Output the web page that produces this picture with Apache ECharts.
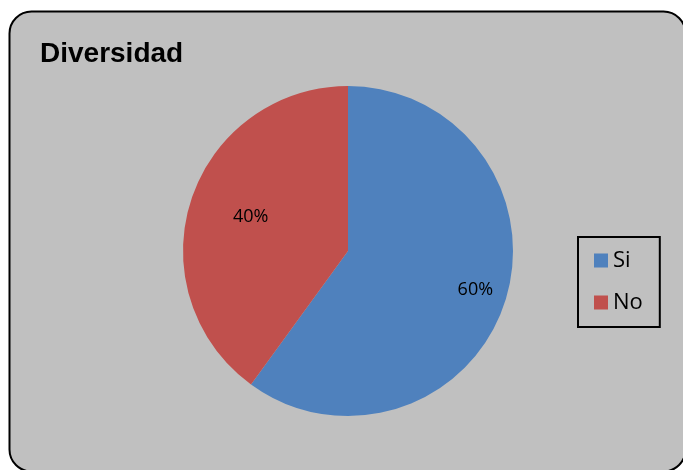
<!DOCTYPE html>
<html>
<head>
<meta charset="utf-8">
<script src="https://cdn.jsdelivr.net/npm/echarts@6/dist/echarts.min.js"></script>
<style>
  html, body { margin: 0; padding: 0; background: #fff; }
  #main { width: 683px; height: 470px; }
</style>
</head>
<body>
<div id="main"></div>
<script>
var categories = ['Si', 'No'];
var values = [60, 40];
var colors = ['#4F81BD', '#C0504D'];
// label nudges so they sit where the original put them
var labelOffsets = [[46, 12], [-16, -8]];

var pieData = [];
for (var i = 0; i < categories.length; i++) {
    pieData.push({
        value: values[i],
        name: categories[i],
        label: { offset: labelOffsets[i] }
    });
}

var chart = echarts.init(document.getElementById('main'));
chart.setOption({
    animation: false,
    color: colors,
    graphic: [
        {
            type: 'rect',
            z: -1,
            silent: true,
            shape: { x: 9.5, y: 11.5, width: 676, height: 460, r: 22 },
            style: { fill: '#C0C0C0', stroke: '#000', lineWidth: 2 }
        }
    ],
    title: {
        text: 'Diversidad',
        left: 35,
        top: 35,
        textStyle: {
            fontFamily: 'Liberation Sans, Arial, sans-serif',
            fontWeight: 'bold',
            fontSize: 28,
            color: '#000'
        }
    },
    legend: {
        orient: 'vertical',
        left: 578,
        top: 237,
        padding: [12, 17, 13, 16],
        itemGap: 19,
        itemWidth: 14,
        itemHeight: 14,
        icon: 'rect',
        borderColor: '#000',
        borderWidth: 2,
        data: categories,
        textStyle: {
            fontFamily: 'Open Sans, sans-serif',
            fontSize: 22,
            lineHeight: 23,
            color: '#000'
        }
    },
    series: [
        {
            name: 'Diversidad',
            type: 'pie',
            center: [348, 251],
            radius: [0, 165],
            startAngle: 90,
            clockwise: true,
            silent: true,
            label: {
                show: true,
                position: 'inside',
                formatter: '{d}%',
                fontFamily: 'Open Sans, sans-serif',
                fontSize: 18,
                color: '#000'
            },
            labelLine: { show: false },
            itemStyle: { borderWidth: 0 },
            data: pieData
        }
    ]
});
</script>
</body>
</html>
